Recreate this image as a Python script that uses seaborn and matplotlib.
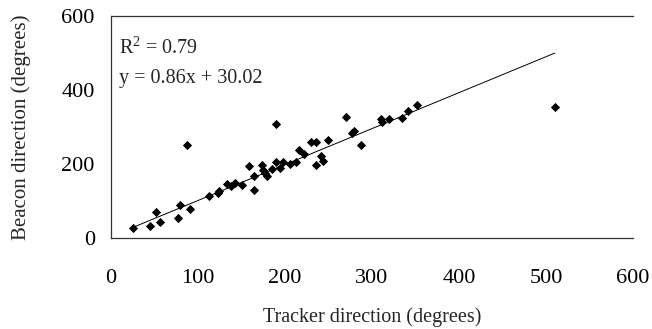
import numpy as np
import pandas as pd
import matplotlib
matplotlib.use("Agg")
import matplotlib.pyplot as plt
import seaborn as sns

# valori
tracker = [25, 45, 52, 57, 77, 80, 91, 87, 113, 123, 124, 134, 138, 143, 151,
           159, 164, 165, 174, 175, 177, 179, 185, 190, 190, 194, 198, 206,
           213, 216, 222, 230, 236, 236, 242, 244, 250, 270, 277, 279, 287,
           310, 311, 319, 334, 341, 352, 510]
beacon = [26, 33, 70, 43, 54, 88, 78, 251, 112, 122, 128, 145, 140, 148, 144,
          195, 130, 168, 196, 184, 175, 168, 186, 206, 308, 190, 206, 200,
          206, 238, 228, 259, 259, 198, 221, 207, 265, 326, 285, 289, 252,
          321, 313, 322, 325, 342, 359, 354]

trend_x = [25, 510]
trend_y = [28, 500]

testo_r2 = "R$^2$ = 0.79"
testo_eq = "y = 0.86x + 30.02"

df = pd.DataFrame({"tracker": tracker, "beacon": beacon})
trend = pd.DataFrame({"x": trend_x, "y": trend_y})

sns.set_style("white")
plt.rcParams["font.family"] = ["Liberation Serif", "DejaVu Serif"]
plt.rcParams["mathtext.fontset"] = "custom"
plt.rcParams["mathtext.rm"] = "Liberation Serif"

fig = plt.figure(figsize=(6.52, 3.29), dpi=100)
ax = fig.add_axes([0.170, 0.277, 0.801, 0.674])

sns.lineplot(data=trend, x="x", y="y", ax=ax, color="black", linewidth=0.7)
sns.scatterplot(data=df, x="tracker", y="beacon", ax=ax, marker="D",
                color="black", s=22, linewidth=0, zorder=3)

ax.set_xlim(0, 600)
ax.set_ylim(0, 600)
ax.set_xticks(np.arange(0, 601, 100))
ax.set_yticks(np.arange(0, 601, 200))
ax.tick_params(direction="inout", length=11, width=0.8, colors="#333333",
               labelcolor="black", labelsize=16)
ax.tick_params(axis="x", pad=17)
ax.tick_params(axis="y", pad=6)

for lato in ["left", "bottom", "top"]:
    ax.spines[lato].set_color("#333333")
    ax.spines[lato].set_linewidth(0.9)
ax.spines["right"].set_visible(False)

ax.set_xlabel("Tracker direction (degrees)", fontsize=14.5, labelpad=14)
ax.set_ylabel("Beacon direction (degrees)", fontsize=15, labelpad=22)

ax.text(9, 513, testo_r2, fontsize=14.5, va="center", ha="left")
ax.text(9, 432, testo_eq, fontsize=14.5, va="center", ha="left")

fig.savefig("out.png", dpi=100)
